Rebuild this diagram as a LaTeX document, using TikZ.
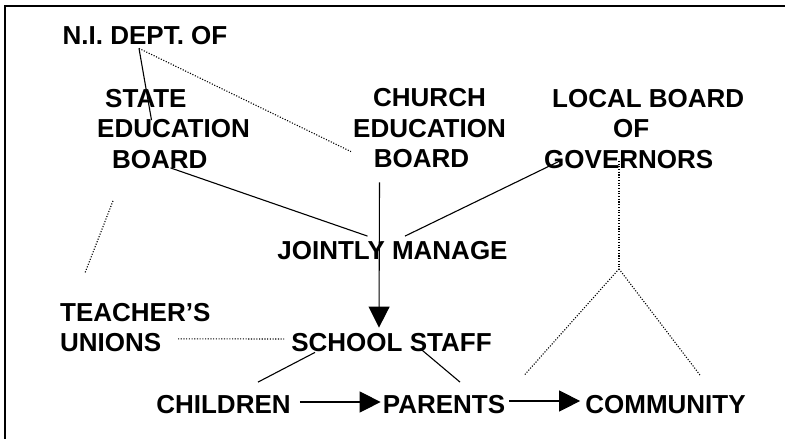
\documentclass[tikz,border=0pt]{standalone}
\usepackage{fontspec}
\setmainfont{Liberation Sans}
\usepackage{tikz}
\usetikzlibrary{arrows.meta}

\begin{document}
\begin{tikzpicture}[x=1pt,y=-1pt,
    lbl/.style={font=\fontsize{26}{30.5}\selectfont\bfseries,inner sep=0pt},
    link/.style={line width=1.1pt},
    loose/.style={line width=1.1pt,dash pattern=on 1.1pt off 1.6pt},
    flow/.style={line width=1.1pt,-{Triangle[length=21pt,width=21pt]}}]
  \useasboundingbox (0,0) rectangle (785,439);
  % Frame (only left and top edges show)
  \draw[line width=1.5pt] (5,439) -- (5,6) -- (785,6);

  % Boards on top
  \node[lbl] (dept) at (145,36) {N.I. DEPT. OF};
  \node[lbl,align=left,anchor=west] (state) at (97,129)
    {\hspace*{8pt}STATE\\EDUCATION\\\hspace*{15pt}BOARD};
  \node[lbl,align=center] (church) at (429.5,128.5)
    {CHURCH\\EDUCATION\\BOARD\hspace*{16pt}};
  \node[lbl,align=left,anchor=west] (gov) at (544,129)
    {\hspace*{8pt}LOCAL BOARD\\\hspace*{69pt}OF\\GOVERNORS};

  % Middle
  \node[lbl] (jm) at (392.5,250.5) {JOINTLY MANAGE};
  \node[lbl,align=left,anchor=west] (teach) at (60,327.5) {TEACHER’S\\UNIONS};
  \node[lbl] (school) at (391.5,343) {SCHOOL STAFF};

  % Bottom row
  \node[lbl] (children) at (223.5,404.5) {CHILDREN};
  \node[lbl] (parents) at (444,404.5) {PARENTS};
  \node[lbl] (community) at (665.5,404.5) {COMMUNITY};

  % Department links
  \coordinate (dept-foot) at ([xshift=-6pt,yshift=-3pt]dept.south);
  \draw[link] (dept-foot) -- ([xshift=-22pt,yshift=-31pt]state.north);
  \draw[loose] (dept-foot) -- ([xshift=-2pt,yshift=-63pt]church.north west);

  % Boards into joint management
  \draw[link] ([xshift=-3pt,yshift=1pt]state.south) -- ([xshift=-25pt,yshift=5pt]jm.north);
  \draw[link] ([xshift=16pt,yshift=8pt]gov.south west) -- ([xshift=12.5pt,yshift=5pt]jm.north);
  \draw[flow] ([xshift=-50pt,yshift=-14pt]church.south) -- ([xshift=-12.5pt,yshift=6pt]school.north);

  % Unions
  \draw[loose] ([xshift=16pt,yshift=-32pt]state.south west) -- ([xshift=25pt,yshift=30pt]teach.north west);
  \draw[loose] ([xshift=118pt,yshift=-36pt]teach.north west) -- ([xshift=-7pt,yshift=4pt]school.west);

  % Governors fork
  \coordinate (fork) at ([xshift=75pt,yshift=-100pt]gov.south west);
  \draw[loose] ([xshift=75pt,yshift=8pt]gov.south west) -- (fork);
  \draw[loose] (fork) -- ([xshift=19pt,yshift=20pt]parents.north east);
  \draw[loose] (fork) -- ([xshift=34.5pt,yshift=20pt]community.north);

  % Staff to children and parents
  \draw[link] ([xshift=-76.5pt]school.south) -- ([xshift=34.5pt,yshift=13pt]children.north);
  \draw[link] ([xshift=28.5pt,yshift=4pt]school.south) -- ([xshift=16pt,yshift=13pt]parents.north);
  \draw[flow] ([xshift=9pt,yshift=2.5pt]children.east) -- ([xshift=-2pt,yshift=2.5pt]parents.west);
  \draw[flow] ([xshift=4pt,yshift=3.5pt]parents.east) -- ([xshift=-5pt,yshift=3.5pt]community.west);
\end{tikzpicture}
\end{document}
